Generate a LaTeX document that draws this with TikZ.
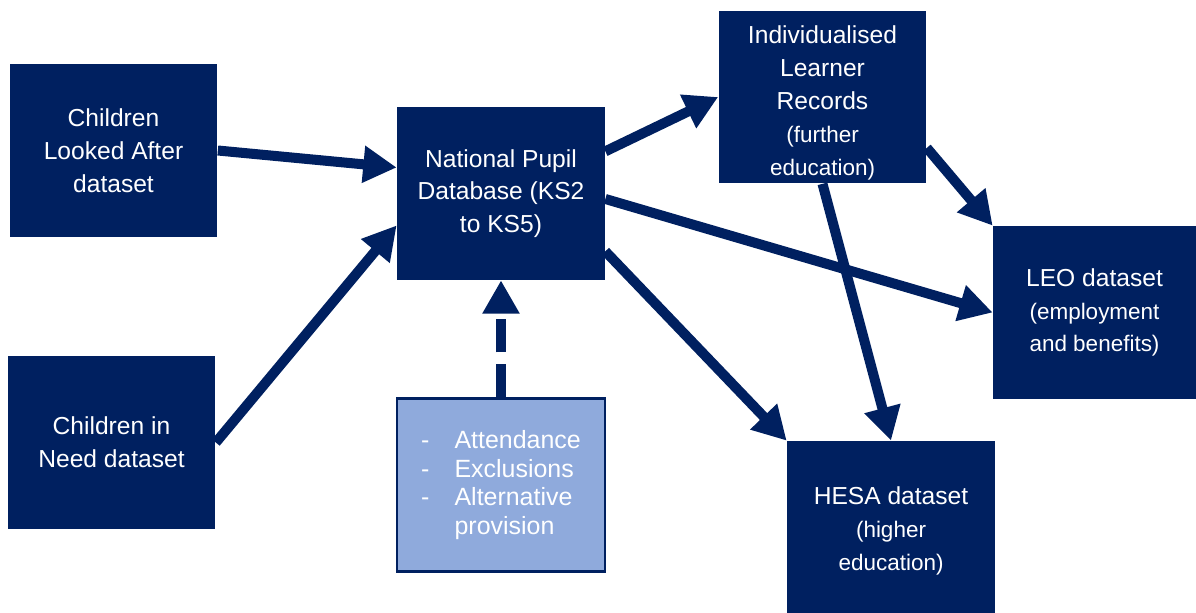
\documentclass[tikz,border=0pt]{standalone}
\usepackage{fontspec}
\setmainfont{Liberation Sans}
\usetikzlibrary{arrows.meta}
\definecolor{navy}{HTML}{002060}
\definecolor{paleblue}{HTML}{8FAADC}
\newcommand{\sm}[1]{{\fontsize{12.8}{16.2}\selectfont #1}}
\newcommand{\dashitem}[1]{\makebox[19pt][l]{-}#1}

\begin{document}
\begin{tikzpicture}[x=0.02cm, y=-0.02cm,
    databox/.style={fill=navy, text=white, align=center, inner sep=0pt,
        minimum width=4.16cm, minimum height=3.46cm,
        font=\fontsize{14}{18.7}\selectfont},
    link/.style={navy, line width=5.7pt, -{Triangle[length=19pt,width=20pt]}}]
    \useasboundingbox (0,0) rectangle (1196,612);
    % sources
    \node[databox] (cla) at (113.5,150.5) {Children\\Looked After\\dataset};
    \node[databox] (cin) at (111.5,442.5) {Children in\\Need dataset};
    \node[databox] (npd) at (501,193.5) {National Pupil\\Database (KS2\\to KS5)};
    \node[databox, fill=paleblue, draw=navy, line width=1.2pt, align=left,
        font=\fontsize{14.2}{16.4}\selectfont] (extra) at (501,485)
        {\dashitem{Attendance}\\\dashitem{Exclusions}\\\dashitem{Alternative}\\\hspace*{19pt}provision};
    % linked datasets
    \node[databox] (ilr) at (822.5,97) {\rule{0pt}{17pt}Individualised\\Learner\\Records\\\sm{(further}\\\sm{education)}};
    \node[databox, minimum width=4.06cm] (leo) at (1094.5,312.5) {LEO dataset\\\sm{(employment}\\\sm{and benefits)}};
    \node[databox] (hesa) at (891,527.5) {\rule{0pt}{14pt}HESA dataset\\\sm{(higher}\\\sm{education)}};

    \draw[link] (cla.east) -- (npd.166);
    \draw[link] (cin.east) -- (npd.197);
    \draw[link, dash pattern=on 18.8pt off 6.8pt] (extra.north) -- (npd.south);
    \draw[link] (npd.22) -- (ilr.west);
    \draw[link] (npd.-3) -- (leo.west);
    \draw[link] (npd.-29) -- (hesa.north west);
    \draw[link] (ilr.-26) -- (leo.north west);
    \draw[link] (ilr.south) -- (hesa.north);
\end{tikzpicture}
\end{document}
